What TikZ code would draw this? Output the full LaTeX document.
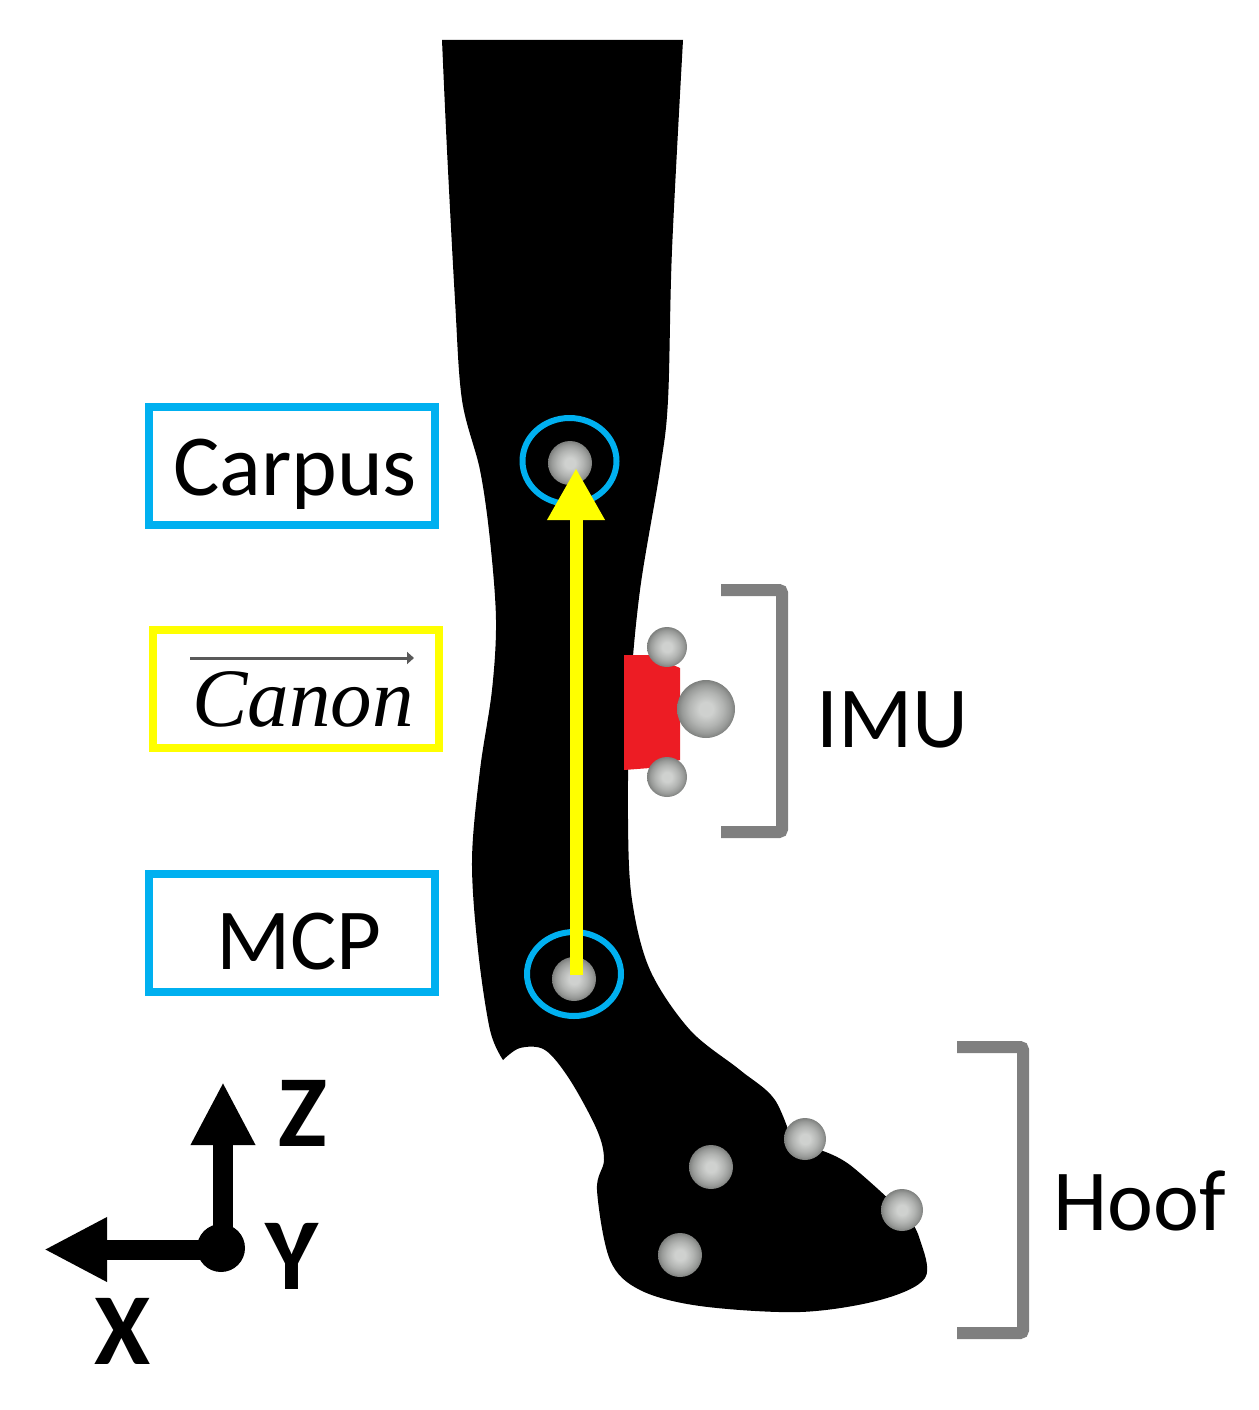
\documentclass[tikz,border=0pt]{standalone}
\usepackage{fontspec}
\setmainfont{Carlito}
\newfontfamily\canonfont{Liberation Serif}
\usetikzlibrary{arrows.meta}
\definecolor{boxblue}{HTML}{00B0F0}
\definecolor{boxyellow}{HTML}{FFFF00}
\definecolor{imured}{HTML}{ED1C24}
\definecolor{brk}{HTML}{7F7F7F}
\definecolor{ma}{HTML}{CFD1CF}
\definecolor{mb}{HTML}{B2B4B2}
\definecolor{mc}{HTML}{989A98}
\definecolor{md}{HTML}{7E807E}
\pgfdeclareradialshading{markerball}{\pgfpointorigin}{color(0bp)=(ma); color(6bp)=(ma); color(15bp)=(mb); color(21bp)=(mc); color(25bp)=(md); color(50bp)=(md)}
\tikzset{
  ball/.style={circle,inner sep=0pt,shade,shading=markerball,minimum size=#1},
  labelbox/.style={draw=#1,line width=8pt,rectangle,inner sep=0pt,minimum width=286pt,minimum height=118pt,fill=white},
  ringmark/.style={draw=boxblue,line width=6pt},
  bracket/.style={draw=brk,line width=12pt,rounded corners=3pt},
  lbl/.style={anchor=base west,inner sep=0pt,font=\fontsize{87}{100}\selectfont,text=black},
  axlbl/.style={anchor=base,inner sep=0pt,font=\fontsize{102}{110}\selectfont\bfseries,text=black},
  axisarrow/.style={line width=20pt,-{Triangle[width=60pt,length=63pt]}},
}
\begin{document}
\begin{tikzpicture}[x=1pt,y=-1pt]
\useasboundingbox (0,0) rectangle (1258,1410);
% leg silhouette
\fill[black]
  plot[smooth,tension=0.55] coordinates {(442,40) (447,150) (455,300) (462,400) (480,470) (490,540) (496,620) (492,690) (480,770) (472,860) (478,950) (490,1030) (503,1060)}
  -- plot[smooth,tension=0.55] coordinates {(503,1060) (520,1048) (545,1050) (570,1080) (597,1130) (604,1160) (597,1190) (610,1260) (640,1290) (700,1306) (800,1312) (880,1300) (925,1278) (920,1240) (905,1215) (850,1165) (820,1150)}
  -- plot[smooth,tension=0.55] coordinates {(795,1150) (775,1100) (740,1070) (690,1030) (650,970) (632,900) (628,820) (630,700) (640,590) (660,470) (668,400) (672,250) (683,40)}
  -- cycle;
% IMU block
\fill[imured] (624,655) -- (650,655) -- (680,668) -- (680,760) -- (650,768) -- (624,770) -- cycle;
% markers
\node[ball=44pt] (mcarpus) at (570,463) {};
\node[ball=44pt] (mmcp) at (574,979) {};
\node[ball=40pt] (imutop) at (667,647) {};
\node[ball=58pt] (imumid) at (706,709) {};
\node[ball=40pt] (imubot) at (667,777) {};
\node[ball=42pt] (h1) at (805,1139) {};
\node[ball=44pt] (h2) at (711,1167) {};
\node[ball=42pt] (h3) at (902,1210) {};
\node[ball=44pt] (h4) at (680,1255) {};
% rings
\coordinate (ringa) at (569.5,461);
\coordinate (ringb) at (574,974);
\draw[ringmark] (ringa) ellipse [x radius=47,y radius=43];
\draw[ringmark] (ringb) ellipse [x radius=47,y radius=42];
% canon vector
\coordinate (canonstart) at (576,975);
\coordinate (canontip) at (576,468);
\draw[boxyellow,line width=13pt,-{Triangle[width=54pt,length=52pt]}] (canonstart) -- (canontip);
% label boxes
\node[labelbox=boxblue] (carpusbox) at (292,466) {};
\node[labelbox=boxyellow] (canonbox) at (296,688.5) {};
\node[labelbox=boxblue] (mcpbox) at (292,932.5) {};
\node[lbl] (carpus) at (173,495) {Carpus};
\node[lbl] (mcp) at (216,969) {MCP};
\node[lbl] (imu) at (816,747) {IMU};
\node[lbl] (hoof) at (1053,1230) {Hoof};
\node[anchor=base west,inner sep=0pt,font=\fontsize{83}{100}\selectfont\canonfont\itshape] (canon) at (192,726) {Canon};
\coordinate (ca) at (190,658);
\coordinate (cb) at (414,658);
\draw[black!65,line width=3pt,-{Triangle[width=12pt,length=7pt]}] (ca) -- (cb);
% brackets
\coordinate (b1a) at (721,590); \coordinate (b1b) at (782,590);
\coordinate (b1c) at (782,832); \coordinate (b1d) at (721,832);
\draw[bracket] (b1a) -- (b1b) -- (b1c) -- (b1d);
\coordinate (b2a) at (957,1047); \coordinate (b2b) at (1023,1047);
\coordinate (b2c) at (1023,1333); \coordinate (b2d) at (957,1333);
\draw[bracket] (b2a) -- (b2b) -- (b2c) -- (b2d);
% axes
\node[circle,fill=black,inner sep=0pt,minimum size=48pt] (origin) at (221,1248) {};
\coordinate (ztip) at (223,1082);
\coordinate (zbase) at (223,1248);
\coordinate (xtip) at (44,1249.5);
\coordinate (xbase) at (221,1249.5);
\draw[axisarrow] (zbase) -- (ztip);
\draw[axisarrow] (xbase) -- (xtip);
\node[axlbl] (zl) at (303,1146) {Z};
\node[axlbl] (yl) at (292,1289) {Y};
\node[axlbl] (xl) at (123,1364) {X};
\end{tikzpicture}
\end{document}
